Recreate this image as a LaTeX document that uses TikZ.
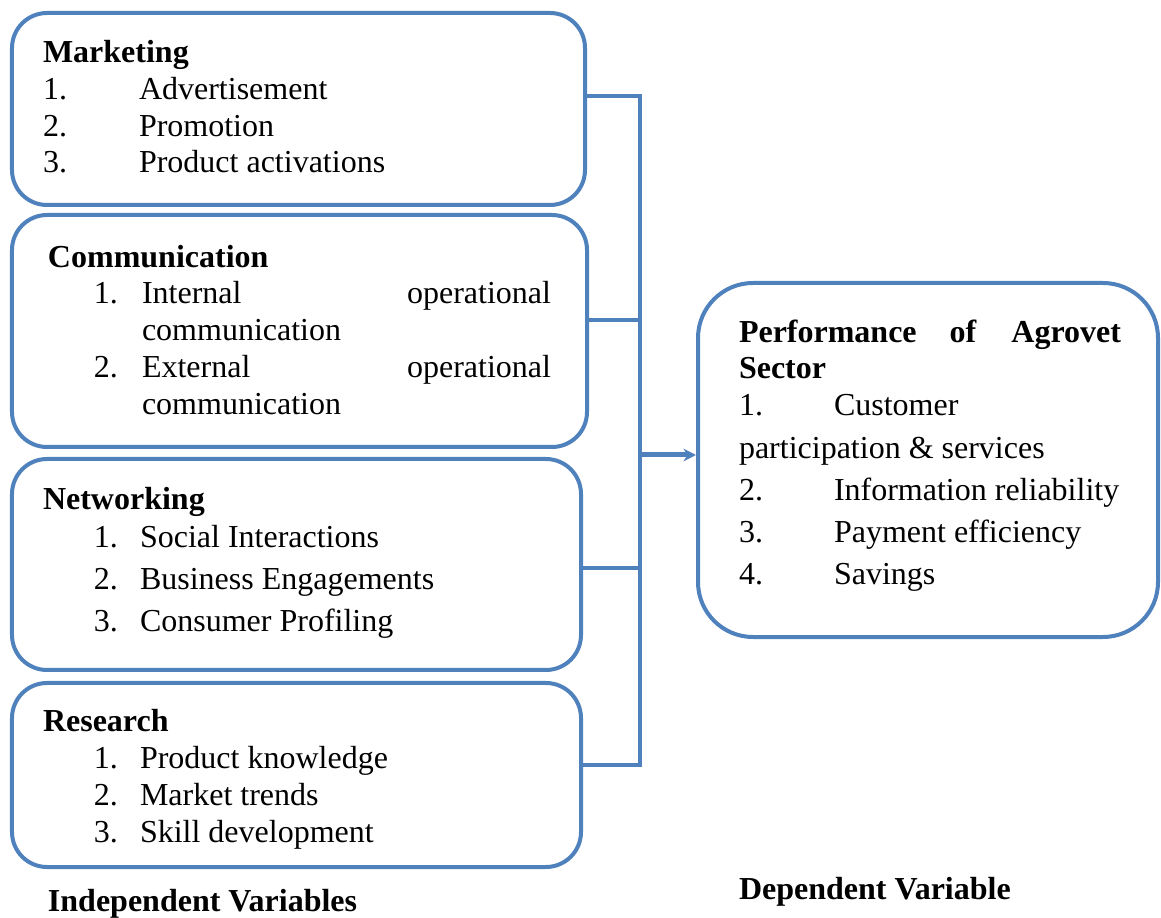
\documentclass[tikz,border=0pt]{standalone}
\usepackage{fontspec}
\setmainfont{Liberation Serif}
\newfontfamily\diagfont{Liberation Serif}
\usepackage{tikz}
\usetikzlibrary{arrows.meta}
\usetikzlibrary{positioning}
\definecolor{linkblue}{HTML}{4F81BD}

\begin{document}
\begin{tikzpicture}[x=0.4pt, y=-0.4pt, thick,
	every node/.style={font=\diagfont\fontsize{12.8pt}{15pt}\selectfont},
	var node/.style={draw=linkblue, line width=1.6pt, fill=white, rectangle, rounded corners=14pt, inner sep=0pt},
	txt/.style={anchor=base west, inner sep=0pt},
	head/.style={txt, font=\diagfont\fontsize{12.8pt}{15pt}\selectfont\bfseries},
	link/.style={draw=linkblue, line width=1.6pt}]

  \useasboundingbox (0,0) rectangle (1161,918);

  % variable boxes
  \node[var node, minimum width=229.2pt, minimum height=76.8pt] (mkt) at (298.5,109) {};
  \node[var node, minimum width=230pt, minimum height=92.8pt] (com) at (299.5,331) {};
  \node[var node, minimum width=227.6pt, minimum height=84.4pt] (net) at (296.5,564.5) {};
  \node[var node, minimum width=227.6pt, minimum height=73.6pt] (res) at (296.5,775) {};
  \node[var node, rounded corners=22pt, minimum width=184pt, minimum height=141.6pt] (perf) at (928,460) {};

  % Marketing
  \node[head] (mkt-h) at (42,63) {Marketing};
  \foreach \i/\t/\y in {1/Advertisement/100, 2/Promotion/137, 3/Product activations/173} {
    \node[txt] (mkt-n\i) at (42,\y) {\i.};
    \node[txt] (mkt-t\i) at (138,\y) {\t};
  }

  % Communication
  \node[head] (com-h) at (47,268) {Communication};
  \node[txt] (com-n1) at (93,304) {1.};
  \node[txt] (com-a1) at (141,304) {Internal};
  \node[txt, anchor=base east] (com-b1) at (552,304) {operational};
  \node[txt] (com-c1) at (141,341) {communication};
  \node[txt] (com-n2) at (93,378) {2.};
  \node[txt] (com-a2) at (141,378) {External};
  \node[txt, anchor=base east] (com-b2) at (552,378) {operational};
  \node[txt] (com-c2) at (141,415) {communication};

  % Networking
  \node[head] (net-h) at (42,510) {Networking};
  \foreach \i/\t/\y in {1/Social Interactions/548, 2/Business Engagements/590, 3/Consumer Profiling/632} {
    \node[txt] (net-n\i) at (93,\y) {\i.};
    \node[txt] (net-t\i) at (139,\y) {\t};
  }

  % Research
  \node[head] (res-h) at (42,732) {Research};
  \foreach \i/\t/\y in {1/Product knowledge/769, 2/Market trends/806, 3/Skill development/843} {
    \node[txt] (res-n\i) at (93,\y) {\i.};
    \node[txt] (res-t\i) at (139,\y) {\t};
  }

  % Performance
  \node[head] (perf-h1) at (738,343) {Performance};
  \node[head, anchor=base] (perf-h2) at (963,343) {of};
  \node[head, anchor=base east] (perf-h3) at (1122,343) {Agrovet};
  \node[head] (perf-h4) at (738,379) {Sector};
  \node[txt] (perf-n1) at (738,416) {1.};
  \node[txt] (perf-t1) at (833,416) {Customer};
  \node[txt] (perf-t1b) at (738,459) {participation \& services};
  \foreach \i/\t/\y in {2/Information reliability/501, 3/Payment efficiency/543, 4/Savings/585} {
    \node[txt] (perf-n\i) at (738,\y) {\i.};
    \node[txt] (perf-t\i) at (833,\y) {\t};
  }

  % captions
  \node[head] (indep) at (47,911) {Independent Variables};
  \node[head] (dep) at (738,900) {Dependent Variable};

  % connectors
  \coordinate (jm) at (640,96);
  \coordinate (jc) at (640,320);
  \coordinate (ja) at (640,455);
  \coordinate (jn) at (640,568);
  \coordinate (jr) at (640,765);

  \path[link] (mkt.east |- jm) -- (jm) -- (jr) -- (res.east |- jr);
  \path[link] (com.east |- jc) -- (jc);
  \path[link] (net.east |- jn) -- (jn);
  \path[link, line width=2pt, -{Stealth[length=5pt, width=5pt]}] (ja) -- (perf.west |- ja);
\end{tikzpicture}
\end{document}
